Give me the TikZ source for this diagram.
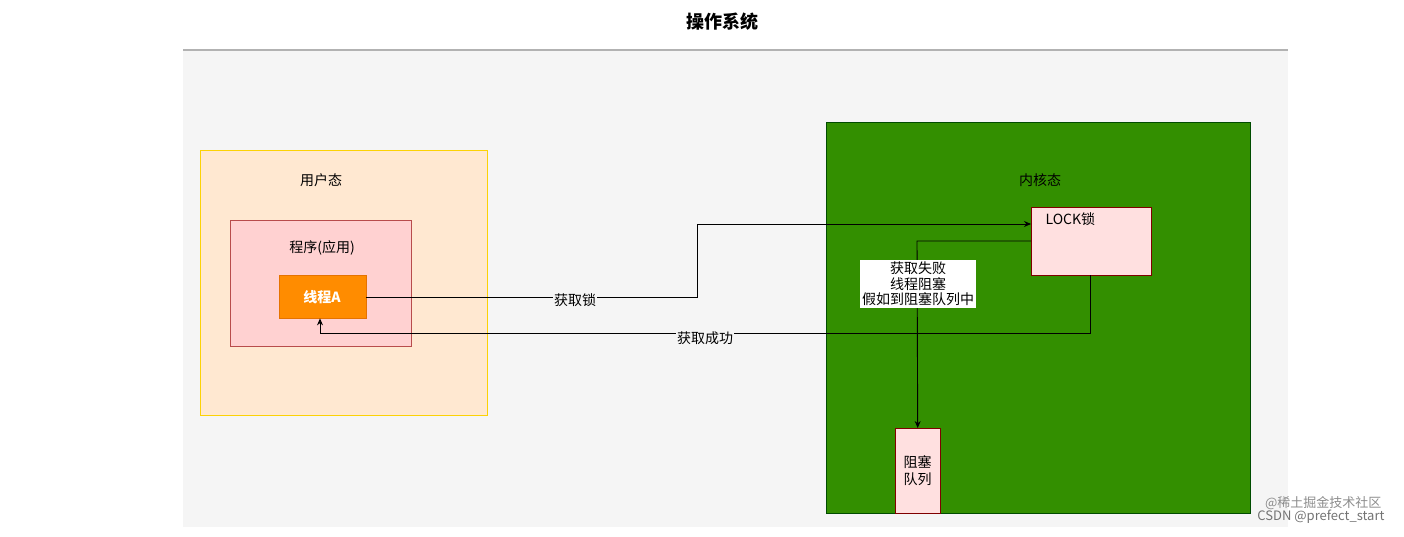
\documentclass[tikz,border=0pt]{standalone}
\usepackage{fontspec}
\setmainfont{Noto Sans CJK SC}
\usetikzlibrary{arrows.meta}
\begin{document}
\begin{tikzpicture}[x=1pt,y=-1pt,
  box/.style={draw,anchor=north west,inner sep=0pt},
  arr/.style={-{Stealth[length=7pt,width=6pt]},line width=0.9pt},
  lbl/.style={font=\fontsize{14}{16}\selectfont}]
\useasboundingbox (0,0) rectangle (1404,537);
\node[font=\fontsize{18}{20}\selectfont\bfseries] (title) at (722,22) {操作系统};
\fill[black!4] (183,50) rectangle (1288,527);
\draw[black!30,line width=1.5pt] (183,50) -- (1288,50);
\node[box,draw=yellow!70!orange,fill=orange!18,minimum width=287pt,minimum height=265pt] (user) at (200,150) {};
\node[lbl] at (321,180) {用户态};
\node[box,draw=red!60!black!70,fill=red!18,minimum width=181pt,minimum height=126pt] (prog) at (230,220) {};
\node[lbl] at (322,248) {程序(应用)};
\node[box,draw=orange!90!black,fill=orange!90!yellow,minimum width=87pt,minimum height=43pt,text=white,font=\fontsize{14}{16}\selectfont\bfseries] (ta) at (279,275) {};
\node[text=white,font=\fontsize{14}{16}\selectfont\bfseries] at (322,297) {线程A};
\node[box,draw=green!30!black,fill=green!45!black!80!yellow,minimum width=424pt,minimum height=391pt] (kern) at (826,122) {};
\node[lbl] at (1040,180) {内核态};
\node[box,draw=red!50!black,fill=red!12,minimum width=120pt,minimum height=68pt] (lock) at (1031,207) {};
\node[lbl,anchor=north west] at (1042,209) {LOCK锁};
\node[box,draw=red!50!black,fill=red!12,minimum width=45pt,minimum height=85pt] (q) at (895,428) {};
\node[lbl,align=center,font=\fontsize{14}{17}\selectfont] at (917.5,471) {阻塞\\队列};
\coordinate (c1) at (697,297);
\coordinate (c2) at (697,224);
\draw[arr] (ta.east |- c1) -- (c1) -- (c2) -- (lock.west |- c2);
\node[lbl,fill=black!4,inner sep=1pt] at (575,300) {获取锁};
\coordinate (d1) at (1090,333);
\coordinate (d2) at (320,333);
\draw[arr] (lock.south -| d1) -- (d1) -- (d2) -- (d2 |- ta.south);
\node[lbl,fill=black!4,inner sep=1pt] at (705,338) {获取成功};
\coordinate (e1) at (917,241);
\draw[arr] (lock.west |- e1) -- (e1) -- (q.north);
\node[lbl,fill=white,align=center,inner sep=2pt,font=\fontsize{14}{15.5}\selectfont] at (918,284) {获取失败\\线程阻塞\\假如到阻塞队列中};
\node[text=black!45,font=\fontsize{13}{14}\selectfont,anchor=east] at (1385,503) {@稀土掘金技术社区};
\node[text=black!55,font=\fontsize{13}{14}\selectfont,anchor=east] at (1388,517) {CSDN @prefect\_start};
\end{tikzpicture}
\end{document}
